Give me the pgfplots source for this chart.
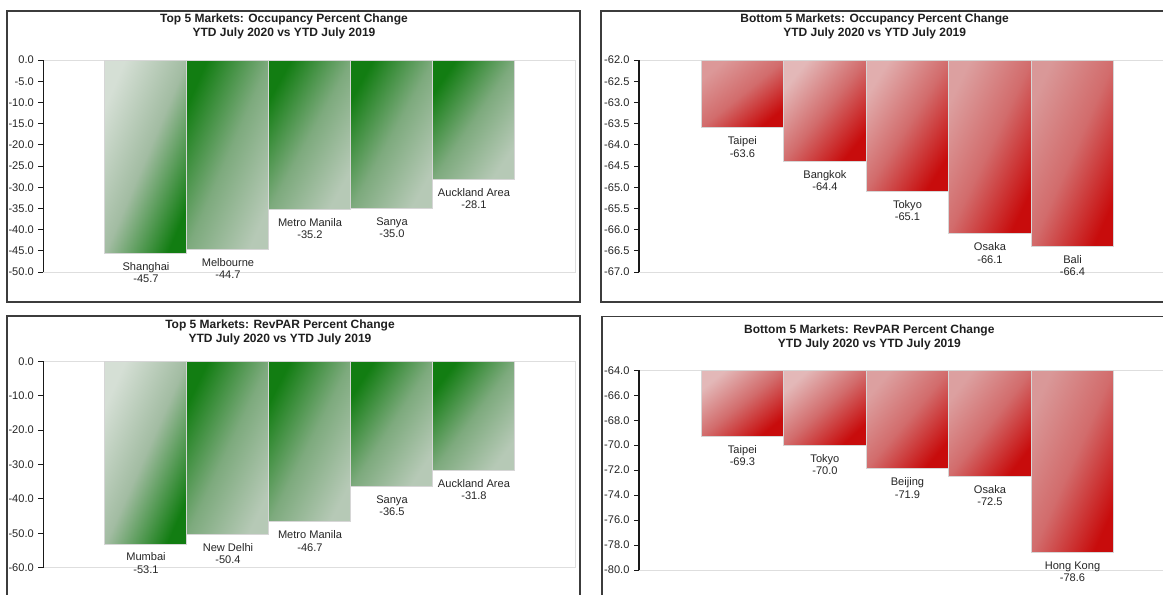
\documentclass[border=0pt]{standalone}
\usepackage{fontspec}
\setmainfont{Liberation Sans}
\usepackage{pgfplots}
\pgfplotsset{compat=1.18}

\definecolor{frame}{HTML}{3C3C3C}
\definecolor{plotbox}{HTML}{DEDEDE}
\definecolor{barline}{HTML}{D6D6D6}
\definecolor{gdark}{HTML}{127D12}
\definecolor{glight}{HTML}{D5DFD5}
\definecolor{gpale}{HTML}{B6C9B6}
\definecolor{gmidA}{HTML}{A2BCA2}
\definecolor{gmidB}{HTML}{7DAA7D}
\definecolor{rdark}{HTML}{C80C0C}
\definecolor{rmid}{HTML}{D26C6C}
\definecolor{rl1}{HTML}{DC9898}
\definecolor{rl2}{HTML}{E3B8B8}
\definecolor{rl3}{HTML}{E1AEAE}
\definecolor{rl4}{HTML}{DCA0A0}
\definecolor{rl5}{HTML}{D99898}

\newcommand\lblfont{\fontsize{8.3}{9.2}\selectfont}

% one bar: x, value, name, top colour, bottom colour, shading angle, middle colour
\newcommand\onebar[7]{%
  \addplot[ybar, bar width=1, bar shift=0pt, draw=barline, line width=0.75pt,
    top color=#4, bottom color=#5, middle color=#7, shading angle=#6,
    nodes near coords={#3\\#2}] coordinates {(#1,#2)};}

\pgfplotsset{
  panel/.style={
    scale only axis, clip=false,
    axis y line*=left, axis x line=none,
    axis background/.style={draw=plotbox, line width=0.75pt},
    y axis line style={black!90, line width=0.8pt},
    tick align=outside, major tick length=3.75pt,
    ytick style={black!90, line width=0.75pt},
    yticklabel style={font=\lblfont, text=black!85, inner sep=0pt, xshift=-3.25pt},
    every node near coord/.append style={font=\lblfont, align=center,
      text=black!85, anchor=north, inner sep=0pt, yshift=-6.3pt},
  },
}

\begin{document}
\begin{tikzpicture}
\useasboundingbox (0,0) rectangle (872.25pt,-445.5pt);
\fill[white] (0,0) rectangle (872.25pt,-445.5pt);
\clip (0,0) rectangle (872.25pt,-445.5pt);

% panel frames
\draw[frame, line width=1.1pt] (5.25pt,-8.25pt) rectangle (435pt,-226.5pt);
\draw[frame, line width=1.1pt] (450.75pt,-8.25pt) rectangle (890pt,-226.5pt);
\draw[frame, line width=1.1pt] (5.25pt,-237pt) rectangle (435pt,-460pt);
\draw[frame, line width=1.1pt] (451.5pt,-237.5pt) rectangle (890pt,-460pt);

% titles
\begin{scope}[every node/.style={align=center, font=\fontsize{9}{10.5}\selectfont\bfseries, text=black!88}]
\node at (213pt,-19.5pt) {Top 5 Markets: Occupancy Percent Change\\YTD July 2020 vs YTD July 2019};
\node at (656pt,-19.5pt) {Bottom 5 Markets: Occupancy Percent Change\\YTD July 2020 vs YTD July 2019};
\node at (210pt,-249pt) {Top 5 Markets: RevPAR Percent Change\\YTD July 2020 vs YTD July 2019};
\node at (652pt,-253pt) {Bottom 5 Markets: RevPAR Percent Change\\YTD July 2020 vs YTD July 2019};
\end{scope}

% top 5 occupancy
\begin{axis}[panel, at={(32.5pt,-45pt)}, anchor=north west,
  width=399pt, height=159pt, xmin=-1.252, xmax=5.236, ymin=-50, ymax=0,
  ytick={0,-5,-10,-15,-20,-25,-30,-35,-40,-45,-50},
  yticklabels={0.0,-5.0,-10.0,-15.0,-20.0,-25.0,-30.0,-35.0,-40.0,-45.0,-50.0}]
\onebar{0}{-45.7}{Shanghai}{glight}{gdark}{67}{gmidA}
\onebar{1}{-44.7}{Melbourne}{gdark}{gpale}{66.5}{gmidB}
\onebar{2}{-35.2}{Metro Manila}{gdark}{gpale}{61}{gmidB}
\onebar{3}{-35.0}{Sanya}{gdark}{gpale}{61}{gmidB}
\onebar{4}{-28.1}{Auckland Area}{gdark}{gpale}{55.5}{gmidB}
\end{axis}

% bottom 5 occupancy (bars hang from -62)
\begin{axis}[panel, at={(479.25pt,-45pt)}, anchor=north west,
  width=401.25pt, height=159pt, xmin=-1.253, xmax=5.23, ymin=-5, ymax=0,
  y filter/.expression={y+62},
  ytick={0,-0.5,-1,-1.5,-2,-2.5,-3,-3.5,-4,-4.5,-5},
  yticklabels={-62.0,-62.5,-63.0,-63.5,-64.0,-64.5,-65.0,-65.5,-66.0,-66.5,-67.0}]
\onebar{0}{-63.6}{Taipei}{rl1}{rdark}{39}{rmid}
\onebar{1}{-64.4}{Bangkok}{rl2}{rdark}{51}{rmid}
\onebar{2}{-65.1}{Tokyo}{rl3}{rdark}{57.5}{rmid}
\onebar{3}{-66.1}{Osaka}{rl4}{rdark}{64.5}{rmid}
\onebar{4}{-66.4}{Bali}{rl5}{rdark}{66}{rmid}
\end{axis}

% top 5 revpar
\begin{axis}[panel, at={(32.5pt,-271pt)}, anchor=north west,
  width=399pt, height=154.8pt, xmin=-1.252, xmax=5.236, ymin=-60, ymax=0,
  ytick={0,-10,-20,-30,-40,-50,-60},
  yticklabels={0.0,-10.0,-20.0,-30.0,-40.0,-50.0,-60.0}]
\onebar{0}{-53.1}{Mumbai}{glight}{gdark}{66}{gmidA}
\onebar{1}{-50.4}{New Delhi}{gdark}{gpale}{64.5}{gmidB}
\onebar{2}{-46.7}{Metro Manila}{gdark}{gpale}{63}{gmidB}
\onebar{3}{-36.5}{Sanya}{gdark}{gpale}{57}{gmidB}
\onebar{4}{-31.8}{Auckland Area}{gdark}{gpale}{53}{gmidB}
\end{axis}

% bottom 5 revpar (bars hang from -64)
\begin{axis}[panel, at={(479.25pt,-277.7pt)}, anchor=north west,
  width=401.25pt, height=149.8pt, xmin=-1.253, xmax=5.23, ymin=-16, ymax=0,
  y filter/.expression={y+64},
  ytick={0,-2,-4,-6,-8,-10,-12,-14,-16},
  yticklabels={-64.0,-66.0,-68.0,-70.0,-72.0,-74.0,-76.0,-78.0,-80.0}]
\onebar{0}{-69.3}{Taipei}{rl2}{rdark}{39}{rmid}
\onebar{1}{-70.0}{Tokyo}{rl2}{rdark}{42}{rmid}
\onebar{2}{-71.9}{Beijing}{rl4}{rdark}{50}{rmid}
\onebar{3}{-72.5}{Osaka}{rl4}{rdark}{52}{rmid}
\onebar{4}{-78.6}{Hong Kong}{rl5}{rdark}{66}{rmid}
\end{axis}
\end{tikzpicture}
\end{document}
